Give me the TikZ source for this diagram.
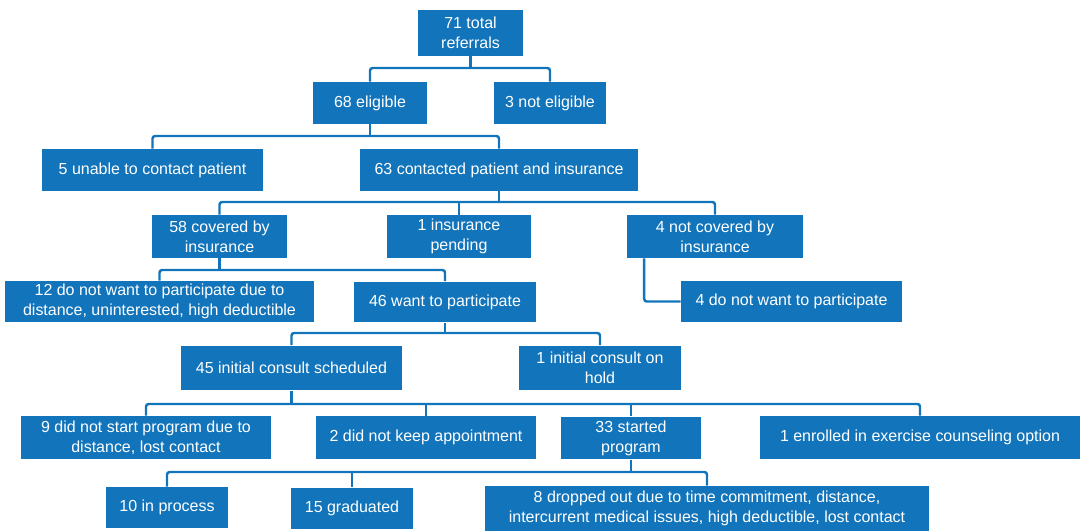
\documentclass[tikz,border=0pt]{standalone}
\usepackage{fontspec}
\setmainfont{Liberation Sans}
\definecolor{flowblue}{RGB}{18,116,186}

\begin{document}
\begin{tikzpicture}[x=0.02cm,y=-0.02cm]
	\tikzstyle{box}=[fill=flowblue,text=white,align=center,inner sep=0pt,font=\fontsize{9.1pt}{11.4pt}\selectfont];
    \tikzstyle{link}=[draw=flowblue,line width=1.4pt,rounded corners=1.5pt];
    \useasboundingbox (0,0) rectangle (1080,531);

    % levels of the tree
    \node[box,minimum width=2.10cm,minimum height=0.92cm] at (470.5,33) (tot) {71 total\\referrals};

    \node[box,minimum width=2.28cm,minimum height=0.84cm] at (370,103) (elig) {68 eligible};
    \node[box,minimum width=2.26cm,minimum height=0.84cm] at (550,103) (nelig) {3 not eligible};

    \node[box,minimum width=4.42cm,minimum height=0.84cm] at (152.5,170) (unable) {5 unable to contact patient};
    \node[box,minimum width=5.56cm,minimum height=0.84cm] at (499,170) (contact) {63 contacted patient and insurance};

    \node[box,minimum width=2.70cm,minimum height=0.86cm] at (219.5,236.5) (cov) {58 covered by\\insurance};
    \node[box,minimum width=2.90cm,minimum height=0.86cm] at (459,236.5) (pend) {1 insurance\\pending};
    \node[box,minimum width=3.54cm,minimum height=0.86cm] at (715,236.5) (notcov) {4 not covered by\\insurance};

    \node[box,minimum width=6.18cm,minimum height=0.82cm] at (159.5,301.5) (nowant) {12 do not want to participate due to\\distance, uninterested, high deductible};
    \node[box,minimum width=3.64cm,minimum height=0.82cm] at (445,302) (want) {46 want to participate};
    \node[box,minimum width=4.42cm,minimum height=0.82cm] at (791.5,301.5) (nowantb) {4 do not want to participate};

    \node[box,minimum width=4.42cm,minimum height=0.90cm] at (291.5,368) (sched) {45 initial consult scheduled};
    \node[box,minimum width=3.24cm,minimum height=0.90cm] at (600,368) (hold) {1 initial consult on\\hold};

    \node[box,minimum width=5.00cm,minimum height=0.86cm] at (146,437.5) (nostart) {9 did not start program due to\\distance, lost contact};
    \node[box,minimum width=4.42cm,minimum height=0.86cm] at (426,437.5) (noappt) {2 did not keep appointment};
    \node[box,minimum width=2.80cm,minimum height=0.86cm] at (631,438) (started) {33 started\\program};
    \node[box,minimum width=6.40cm,minimum height=0.86cm] at (920,437.5) (enrol) {1 enrolled in exercise counseling option};

    \node[box,minimum width=2.44cm,minimum height=0.82cm] at (167,507.5) (inproc) {10 in process};
    \node[box,minimum width=2.44cm,minimum height=0.82cm] at (352,508) (grad) {15 graduated};
    \node[box,minimum width=8.90cm,minimum height=0.90cm] at (707,508.5) (drop) {8 dropped out due to time commitment, distance,\\intercurrent medical issues, high deductible, lost contact};

    % horizontal bus lines
    \coordinate (b1) at (0,68);
    \coordinate (b2) at (0,136);
    \coordinate (b3) at (0,202);
    \coordinate (b4) at (0,270);
    \coordinate (b5) at (0,333);
    \coordinate (b6) at (0,404);
    \coordinate (b7) at (0,472);

    \draw[link] (tot.south) -- (tot.south |- b1);
    \draw[link] (elig.north) |- (nelig.north |- b1) -- (nelig.north);

    \draw[link] (elig.south) -- (elig.south |- b2);
    \draw[link] (unable.north) |- (contact.north |- b2) -- (contact.north);

    \draw[link] (contact.south) -- (contact.south |- b3);
    \draw[link] (cov.north) |- (notcov.north |- b3) -- (notcov.north);
    \draw[link] (pend.north) -- (pend.north |- b3);

    \draw[link] (cov.south) -- (cov.south |- b4);
    \draw[link] (nowant.north) |- (want.north |- b4) -- (want.north);
    \draw[link] ([xshift=0.36cm]notcov.south west) |- (nowantb.west);

    \draw[link] (want.south) -- (want.south |- b5);
    \draw[link] (sched.north) |- (hold.north |- b5) -- (hold.north);

    \draw[link] (sched.south) -- (sched.south |- b6);
    \draw[link] (nostart.north) |- (enrol.north |- b6) -- (enrol.north);
    \draw[link] (noappt.north) -- (noappt.north |- b6);
    \draw[link] (started.north) -- (started.north |- b6);

    \draw[link] (started.south) -- (started.south |- b7);
    \draw[link] (inproc.north) |- (drop.north |- b7) -- (drop.north);
    \draw[link] (grad.north) -- (grad.north |- b7);
\end{tikzpicture}
\end{document}
